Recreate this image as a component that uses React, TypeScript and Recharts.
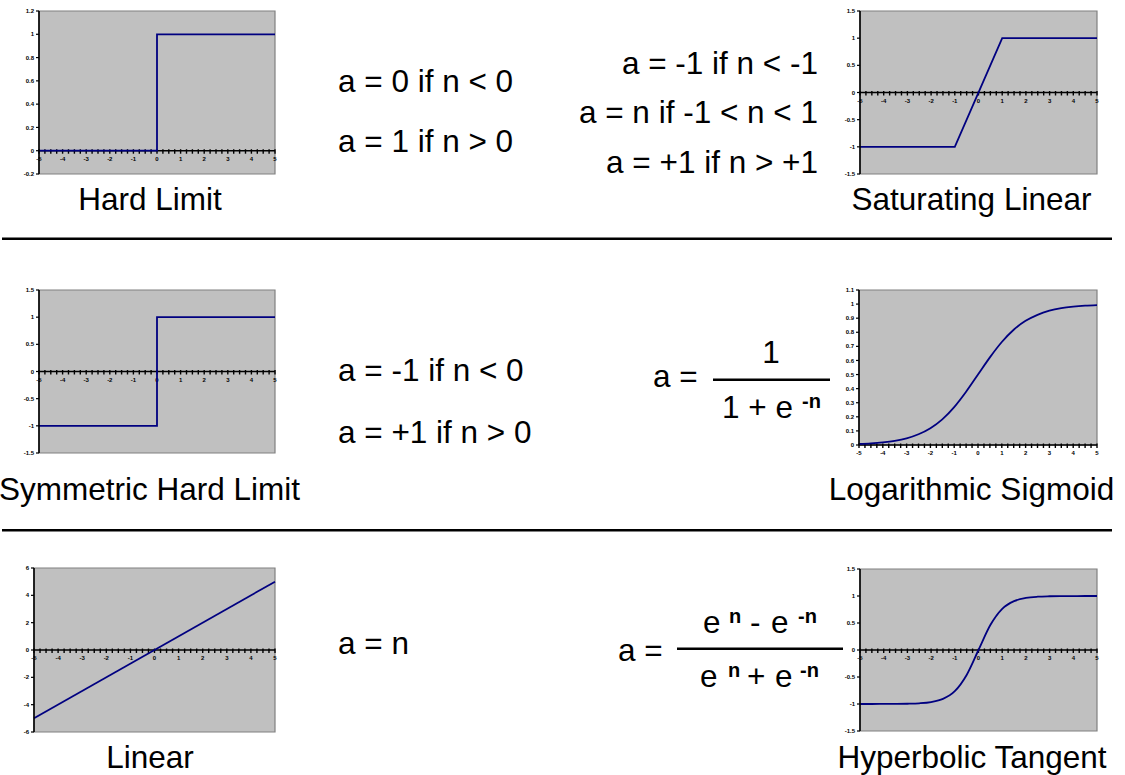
import React from 'react';
import { CartesianGrid, Line, LineChart, ReferenceArea, ReferenceLine, XAxis, YAxis } from 'recharts';

const FONT = '"Liberation Sans", Arial, sans-serif';
const NAVY = '#000080';

// shared n axis
const nTicks = [-5, -4, -3, -2, -1, 0, 1, 2, 3, 4, 5];
const N_MIN = -5;
const N_MAX = 5;
const MINOR_PER_UNIT = 4;

// transfer functions, as (n, a) pairs
const hardlimN = [-5, 0, 0, 5];
const hardlimA = [0, 0, 1, 1];
const hardlimsA = [-1, -1, 1, 1];
const satlinN = [-5, -1, 1, 5];
const satlinA = [-1, -1, 1, 1];
const purelinN = [-5, 5];
const purelinA = [-5, 5];
const curveN = [-5, -4.5, -4, -3.5, -3, -2.5, -2, -1.5, -1, -0.5, 0, 0.5, 1, 1.5, 2, 2.5, 3, 3.5, 4, 4.5, 5];
const logsigA = [0.007, 0.011, 0.018, 0.029, 0.047, 0.076, 0.119, 0.182, 0.269, 0.378, 0.5, 0.622, 0.731, 0.818, 0.881, 0.924, 0.953, 0.971, 0.982, 0.989, 0.993];
const tansigA = [-1, -1, -0.999, -0.998, -0.995, -0.987, -0.964, -0.905, -0.762, -0.462, 0, 0.462, 0.762, 0.905, 0.964, 0.987, 0.995, 0.998, 0.999, 1, 1];

// y tick labels per panel
const hardlimTicks = [-0.2, 0, 0.2, 0.4, 0.6, 0.8, 1, 1.2];
const symTicks = [-1.5, -1, -0.5, 0, 0.5, 1, 1.5];
const logsigTicks = [0, 0.1, 0.2, 0.3, 0.4, 0.5, 0.6, 0.7, 0.8, 0.9, 1, 1.1];
const purelinTicks = [-6, -4, -2, 0, 2, 4, 6];

const zip = (n: number[], a: number[]) => n.map((v, i) => ({ n: v, a: a[i] }));

// n axis drawn through a = 0, with minor ticks and labels
function ZeroAxis(p: any) {
  const { x1, x2, y1 } = p;
  const px = (v: number) => x1 + ((v - N_MIN) / (N_MAX - N_MIN)) * (x2 - x1);
  const minor: number[] = [];
  for (let i = 0; i <= (N_MAX - N_MIN) * MINOR_PER_UNIT; i++) minor.push(N_MIN + i / MINOR_PER_UNIT);
  return (
    <g>
      <line x1={x1} x2={x2} y1={y1} y2={y1} stroke="#000" strokeWidth={1.6} />
      {minor.map((v) => (
        <line key={v} x1={px(v)} x2={px(v)} y1={y1 - 1.5} y2={y1 + 3} stroke="#000" strokeWidth={1.4} />
      ))}
      {nTicks.map((v) => (
        <text key={v} x={px(v)} y={y1 + 10} textAnchor="middle" fontSize={6} fontWeight="bold" fontFamily={FONT} fill="#000">
          {v}
        </text>
      ))}
    </g>
  );
}

interface PanelProps {
  x: number;
  y: number;
  w: number;
  h: number;
  ticks: number[];
  data: { n: number; a: number }[];
  smooth?: boolean;
}

function Panel({ x, y, w, h, ticks, data, smooth }: PanelProps) {
  const padL = 34;
  const padR = 6;
  const padT = 6;
  const padB = 14;
  const lo = ticks[0];
  const hi = ticks[ticks.length - 1];
  return (
    <div style={{ position: 'absolute', left: x - padL, top: y - padT }}>
      <LineChart width={w + padL + padR} height={h + padT + padB} data={data} margin={{ top: padT, right: padR, bottom: padB, left: 0 }}>
        <CartesianGrid horizontal={false} vertical={false} fill="#C0C0C0" />
        <ReferenceArea x1={N_MIN} x2={N_MAX} y1={lo} y2={hi} fill="none" stroke="#808080" strokeWidth={1.2} fillOpacity={0} />
        <XAxis type="number" dataKey="n" domain={[N_MIN, N_MAX]} hide />
        <YAxis
          type="number"
          domain={[lo, hi]}
          ticks={ticks}
          interval={0}
          width={padL}
          tickSize={3}
          tickMargin={2}
          axisLine={{ stroke: '#000', strokeWidth: 1.6 }}
          tickLine={{ stroke: '#000', strokeWidth: 1.2 }}
          tick={{ fontSize: 6, fontWeight: 'bold', fill: '#000', fontFamily: FONT }}
        />
        <ReferenceLine y={0} shape={ZeroAxis} />
        <Line type={smooth ? 'monotone' : 'linear'} dataKey="a" stroke={NAVY} strokeWidth={1.8} dot={false} isAnimationActive={false} />
      </LineChart>
    </div>
  );
}

const big = { fontSize: 31.5, fontFamily: FONT, fill: '#000' };
const sup = { fontSize: 20, fontWeight: 'bold' as const, fontFamily: FONT, fill: '#000' };

export default function App() {
  return (
    <div style={{ position: 'absolute', left: 0, top: 0, width: 1125, height: 775, background: '#fff', overflow: 'hidden' }}>
      <Panel x={39} y={11} w={236} h={163} ticks={hardlimTicks} data={zip(hardlimN, hardlimA)} />
      <Panel x={860} y={11} w={237} h={163} ticks={symTicks} data={zip(satlinN, satlinA)} />
      <Panel x={39} y={290} w={236} h={163} ticks={symTicks} data={zip(hardlimN, hardlimsA)} />
      <Panel x={859} y={290} w={238} h={155} ticks={logsigTicks} data={zip(curveN, logsigA)} smooth />
      <Panel x={34} y={568} w={241} h={164} ticks={purelinTicks} data={zip(purelinN, purelinA)} />
      <Panel x={860} y={569} w={237} h={162} ticks={symTicks} data={zip(curveN, tansigA)} smooth />

      <svg width={1125} height={775} style={{ position: 'absolute', left: 0, top: 0, pointerEvents: 'none' }}>
        {/* names */}
        <text x={150} y={210} textAnchor="middle" {...big}>Hard Limit</text>
        <text x={971.5} y={210} textAnchor="middle" {...big}>Saturating Linear</text>
        <text x={149.5} y={500} textAnchor="middle" {...big}>Symmetric Hard Limit</text>
        <text x={971.5} y={500} textAnchor="middle" {...big}>Logarithmic Sigmoid</text>
        <text x={150} y={768} textAnchor="middle" {...big}>Linear</text>
        <text x={972} y={768} textAnchor="middle" {...big}>Hyperbolic Tangent</text>

        {/* separators */}
        <rect x={2} y={237.5} width={1110} height={2.5} fill="#000" />
        <rect x={2} y={529} width={1110} height={2.5} fill="#000" />

        {/* hard limit */}
        <text x={338} y={92} {...big}>a = 0 if n &lt; 0</text>
        <text x={338} y={152} {...big}>a = 1 if n &gt; 0</text>

        {/* saturating linear */}
        <text x={818} y={74} textAnchor="end" {...big}>a = -1 if n &lt; -1</text>
        <text x={818} y={123} textAnchor="end" {...big}>a = n if -1 &lt; n &lt; 1</text>
        <text x={818} y={173} textAnchor="end" {...big}>a = +1 if n &gt; +1</text>

        {/* symmetric hard limit */}
        <text x={338} y={381} {...big}>a = -1 if n &lt; 0</text>
        <text x={338} y={443} {...big}>a = +1 if n &gt; 0</text>

        {/* log-sigmoid */}
        <text x={653} y={387} {...big}>a =</text>
        <text x={771} y={363} textAnchor="middle" {...big}>1</text>
        <rect x={713} y={378.5} width={117} height={2.5} fill="#000" />
        <text x={722} y={418} {...big}>1 + e</text>
        <text x={802} y={408} {...sup}>-n</text>

        {/* linear */}
        <text x={338} y={654} {...big}>a = n</text>

        {/* tan-sigmoid */}
        <text x={618} y={661} {...big}>a =</text>
        <text x={703} y={633} {...big}>e</text>
        <text x={729} y={623} {...sup}>n</text>
        <text x={750} y={633} {...big}>-</text>
        <text x={771} y={633} {...big}>e</text>
        <text x={798} y={623} {...sup}>-n</text>
        <rect x={677} y={647.5} width={166} height={2.5} fill="#000" />
        <text x={700} y={687} {...big}>e</text>
        <text x={728} y={677} {...sup}>n</text>
        <text x={747} y={687} {...big}>+</text>
        <text x={775} y={687} {...big}>e</text>
        <text x={800} y={677} {...sup}>-n</text>
      </svg>
    </div>
  );
}
